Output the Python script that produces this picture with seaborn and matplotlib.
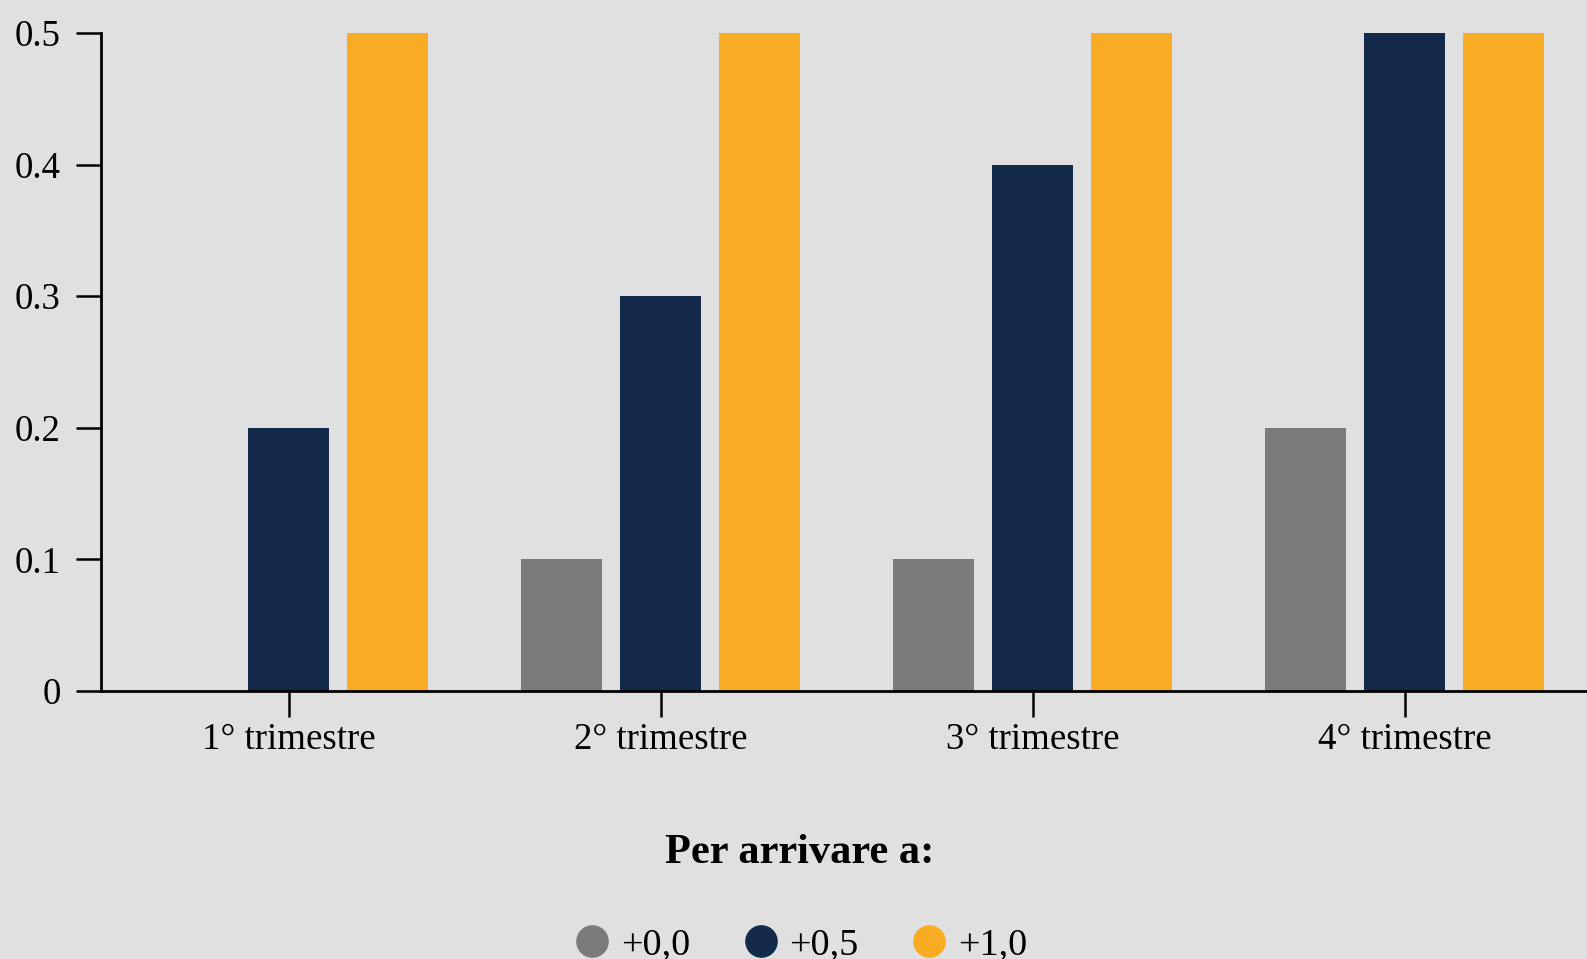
import matplotlib
matplotlib.use("Agg")
import matplotlib.pyplot as plt
import seaborn as sns
import pandas as pd
from matplotlib.lines import Line2D
from matplotlib.ticker import FuncFormatter

categories = ["1° trimestre", "2° trimestre", "3° trimestre", "4° trimestre"]
series_names = ["+0,0", "+0,5", "+1,0"]
s_00 = [0.0, 0.1, 0.1, 0.2]
s_05 = [0.2, 0.3, 0.4, 0.5]
s_10 = [0.5, 0.5, 0.5, 0.5]
colors = ["#7b7b7b", "#132a4b", "#f8ac24"]
legend_title = "Per arrivare a:"

rows = []
for name, vals in zip(series_names, [s_00, s_05, s_10]):
    for c, v in zip(categories, vals):
        rows.append({"cat": c, "serie": name, "val": v})
df = pd.DataFrame(rows)

sns.set_theme(style="ticks")
plt.rcParams['font.family'] = ['Liberation Serif', 'DejaVu Serif']
plt.rcParams['text.color'] = 'black'
bg = "#e0e0e0"

fig = plt.figure(figsize=(15.87, 9.59), dpi=100, facecolor=bg)
ax = fig.add_axes([101/1587, 1-691/959, (1587-101)/1587, (691-33)/959])
ax.set_facecolor(bg)

sns.barplot(data=df, x="cat", y="val", hue="serie", hue_order=series_names,
            palette=colors, width=0.8, gap=0.185, ax=ax, legend=False,
            saturation=1, edgecolor="none", linewidth=0)

ax.set_ylim(0, 0.5)
ax.set_xlim(-0.504, 3.49)
ax.set_yticks([0, 0.1, 0.2, 0.3, 0.4, 0.5])
ax.yaxis.set_major_formatter(FuncFormatter(lambda v, p: "0" if abs(v) < 1e-9 else f"{v:.1f}"))
ax.set_xlabel("")
ax.set_ylabel("")
for s in ["top", "right"]:
    ax.spines[s].set_visible(False)
for s in ["left", "bottom"]:
    ax.spines[s].set_linewidth(2)
    ax.spines[s].set_color("black")
ax.tick_params(axis="y", length=18, width=1.8, pad=11, labelsize=26.6, colors="black")
ax.tick_params(axis="x", length=19, width=1.8, pad=4, labelsize=26.6, colors="black")

handles = [Line2D([0], [0], marker="o", linestyle="none", markersize=23.5,
                  markerfacecolor=c, markeredgecolor="none") for c in colors]
leg = fig.legend(handles, series_names, loc="upper center",
                 bbox_to_anchor=(800/1587, 1-815/959), ncol=3, frameon=False,
                 fontsize=27.5, title=legend_title, labelcolor="black",
                 title_fontproperties={"weight": "bold", "size": 30.5},
                 handlelength=1.0, handletextpad=0.25, columnspacing=1.35,
                 labelspacing=1.45, borderpad=0)
leg.get_title().set_color("black")

fig.savefig("out.png", dpi=100, facecolor=bg)
